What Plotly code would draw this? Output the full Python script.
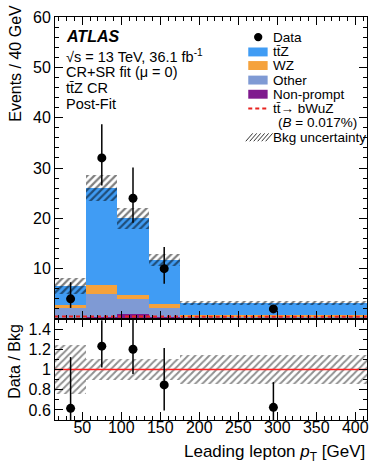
import plotly.graph_objects as go

# ---------------- data ----------------
bin_edges = [15, 55, 95, 135, 175, 415]
nonprompt = [0.2, 0.3, 1.0, 0.3, 0.05]
other = [1.9, 4.7, 3.0, 1.8, 0.45]
wz = [0.6, 1.7, 0.7, 0.8, 0.35]
ttz = [3.8, 19.3, 15.3, 8.9, 2.35]
bkg_unc = [1.6, 2.6, 2.1, 1.2, 0.45]
signal = [0.5, 0.5, 0.5, 0.5, 0.45]
data = [4, 32, 24, 10, 2]
data_err_up = [3.3, 6.7, 6.1, 4.3, 0.8]
data_err_dn = [1.8, 5.5, 4.9, 3.0, 0.8]

x_ticks = [50, 100, 150, 200, 250, 300, 350, 400]
y_ticks_main = [10, 20, 30, 40, 50, 60]
y_ticks_ratio = [0.6, 0.8, 1.0, 1.2, 1.4]
y_ticklabels_ratio = ["0.6", "0.8", "1", "1.2", "1.4"]

# ---------------- derived ----------------
centers = [(a + b) / 2 for a, b in zip(bin_edges[:-1], bin_edges[1:])]
widths = [b - a for a, b in zip(bin_edges[:-1], bin_edges[1:])]
total = [a + b + c + d for a, b, c, d in zip(nonprompt, other, wz, ttz)]
ratio = [d / t for d, t in zip(data, total)]
ratio_up = [e / t for e, t in zip(data_err_up, total)]
ratio_dn = [e / t for e, t in zip(data_err_dn, total)]
rel_unc = [u / t for u, t in zip(bkg_unc, total)]

FONT = "Liberation Sans, Arial, Helvetica, sans-serif"
C_TTZ = "#409cf4"
C_WZ = "#f5a23c"
C_OTHER = "#7f9ad4"
C_NP = "#7f1a8e"
C_SIG = "#e8231f"

fig = go.Figure()

base = [0.0] * len(centers)
for name, vals, col in [("Non-prompt", nonprompt, C_NP), ("Other", other, C_OTHER),
                        ("WZ", wz, C_WZ), ("ttZ", ttz, C_TTZ)]:
    fig.add_trace(go.Bar(x=centers, y=vals, base=list(base), width=widths,
                         marker=dict(color=col, line=dict(width=0)),
                         xaxis="x", yaxis="y", showlegend=False, name=name))
    base = [b + v for b, v in zip(base, vals)]

# background uncertainty band (main)
fig.add_trace(go.Bar(x=centers, y=[2 * u for u in bkg_unc],
                     base=[t - u for t, u in zip(total, bkg_unc)], width=widths,
                     marker=dict(color="rgba(0,0,0,0)", line=dict(width=0),
                                 pattern=dict(shape="/", fgcolor="black", bgcolor="rgba(0,0,0,0)",
                                              size=5, solidity=0.45, fillmode="overlay")),
                     xaxis="x", yaxis="y", showlegend=False))

# signal dashed step line
sx = list(bin_edges)
sy = list(signal) + [signal[-1]]
fig.add_trace(go.Scatter(x=sx, y=sy, mode="lines", line=dict(color=C_SIG, width=2, dash="4px,3px", shape="hv"),
                         xaxis="x", yaxis="y", showlegend=False))

# data
fig.add_trace(go.Scatter(x=centers, y=data, mode="markers",
                         marker=dict(color="black", size=9),
                         error_y=dict(type="data", array=data_err_up, arrayminus=data_err_dn,
                                      color="black", thickness=1.5, width=0),
                         xaxis="x", yaxis="y", showlegend=False))

# ratio band
fig.add_trace(go.Bar(x=centers, y=[2 * r for r in rel_unc], base=[1 - r for r in rel_unc], width=widths,
                     marker=dict(color="rgba(0,0,0,0)", line=dict(width=0),
                                 pattern=dict(shape="/", fgcolor="#222", bgcolor="rgba(0,0,0,0)",
                                              size=5, solidity=0.4, fillmode="overlay")),
                     xaxis="x2", yaxis="y2", showlegend=False))

fig.add_trace(go.Scatter(x=[bin_edges[0], bin_edges[-1]], y=[1, 1], mode="lines",
                         line=dict(color="#ff2020", width=1.3), xaxis="x2", yaxis="y2", showlegend=False))

fig.add_trace(go.Scatter(x=centers, y=ratio, mode="markers",
                         marker=dict(color="black", size=9),
                         error_y=dict(type="data", array=ratio_up, arrayminus=ratio_dn,
                                      color="black", thickness=1.5, width=0),
                         xaxis="x2", yaxis="y2", showlegend=False))

# ---------------- layout ----------------
L, R, T, B = 55, 9, 13, 46
W, H = 378, 466
PW, PH = W - L - R, H - T - B
split = (420 - 318) / PH


def fx(px):
    return (px - L) / PW


def fy(py):
    return (H - B - py) / PH


ax_common = dict(showline=True, linecolor="black", linewidth=1, mirror="ticks",
                 ticks="inside", ticklen=8, tickcolor="black", tickwidth=1,
                 showgrid=False, zeroline=False,
                 tickfont=dict(family=FONT, size=16, color="black"))

fig.update_layout(
    width=W, height=H, margin=dict(l=L, r=R, t=T, b=B),
    paper_bgcolor="white", plot_bgcolor="white",
    barmode="overlay", bargap=0, showlegend=False,
    font=dict(family=FONT, color="black"),
    xaxis=dict(domain=[0, 1], range=[bin_edges[0], bin_edges[-1]], anchor="y",
               tickmode="array", tickvals=x_ticks, showticklabels=False,
               minor=dict(dtick=10, tick0=0, ticks="inside", ticklen=4, tickcolor="black"),
               **ax_common),
    yaxis=dict(domain=[split, 1], range=[0, 60], anchor="x",
               tickmode="array", tickvals=y_ticks_main,
               minor=dict(dtick=2, tick0=0, ticks="inside", ticklen=4, tickcolor="black"),
               **ax_common),
    xaxis2=dict(domain=[0, 1], range=[bin_edges[0], bin_edges[-1]], anchor="y2",
                tickmode="array", tickvals=x_ticks, ticktext=[str(v) for v in x_ticks],
                ticklabelstandoff=-7,
                minor=dict(dtick=10, tick0=0, ticks="inside", ticklen=4, tickcolor="black"),
                **ax_common),
    yaxis2=dict(domain=[0, split], range=[0.5, 1.5], anchor="x2",
                tickmode="array", tickvals=y_ticks_ratio, ticktext=y_ticklabels_ratio,
                minor=dict(dtick=0.1, tick0=0, ticks="inside", ticklen=4, tickcolor="black"),
                **ax_common),
)

ann = []


def text(px, py, s, size=13.5, anchor="left", angle=0, yanchor="middle"):
    ann.append(dict(x=fx(px), y=fy(py), xref="paper", yref="paper", text=s, showarrow=False,
                    xanchor=anchor, yanchor=yanchor, textangle=angle,
                    font=dict(family=FONT, size=size, color="black")))


# axis titles
text(15, 60, "Events / 40 GeV", size=16, anchor="center", angle=-90)
text(14, 361, "Data / Bkg", size=16, anchor="center", angle=-90)
text(369, 453, "Leading lepton <i>p</i><sub>T</sub> [GeV]", size=17, anchor="right")

# ATLAS label block
text(64, 33, "<b><i>ATLAS</i></b>", size=16)
text(64, 52, "\u221As = 13 TeV, 36.1 fb<sup>-1</sup>", size=14.5)
text(64, 68.5, "CR+SR fit (\u03bc = 0)", size=14.5)
text(64, 84.5, "tt\u0304Z CR", size=14.5)
text(64, 100.5, "Post-Fit", size=14.5)

# legend texts
leg_x = 272
text(leg_x, 33.3, "Data")
text(leg_x, 48.3, "tt\u0304Z")
text(leg_x, 62, "WZ")
text(leg_x, 76.7, "Other")
text(leg_x, 91, "Non-prompt")
text(leg_x, 105.5, "tt\u0304\u2192 bWuZ")
text(leg_x + 5, 120, "(<i>B</i> = 0.017%)")
text(leg_x, 134.5, "Bkg uncertainty")
fig.update_layout(annotations=ann)

shapes = []
# legend marker for data
shapes.append(dict(type="circle", xref="paper", yref="paper",
                   x0=fx(255.3), x1=fx(263.7), y0=fy(37.5), y1=fy(29.1),
                   fillcolor="black", line=dict(width=0)))
for yc, col in [(48.3, C_TTZ), (62, C_WZ), (76.7, C_OTHER), (91, C_NP)]:
    shapes.append(dict(type="rect", xref="paper", yref="paper",
                       x0=fx(249.5), x1=fx(269), y0=fy(yc + 4.5), y1=fy(yc - 4.5),
                       fillcolor=col, line=dict(width=0)))
shapes.append(dict(type="line", xref="paper", yref="paper",
                   x0=fx(249.5), x1=fx(269), y0=fy(105.5), y1=fy(105.5),
                   line=dict(color=C_SIG, width=2, dash="4px,3px")))
# hatched legend box
hy0, hy1 = 130.5, 138.5
for k in range(6):
    xa = 247 + 4 * k
    shapes.append(dict(type="line", xref="paper", yref="paper",
                       x0=fx(xa), x1=fx(xa + 7), y0=fy(hy1), y1=fy(hy0),
                       line=dict(color="#333", width=1)))
fig.update_layout(shapes=shapes)

fig.write_html("out.html")
